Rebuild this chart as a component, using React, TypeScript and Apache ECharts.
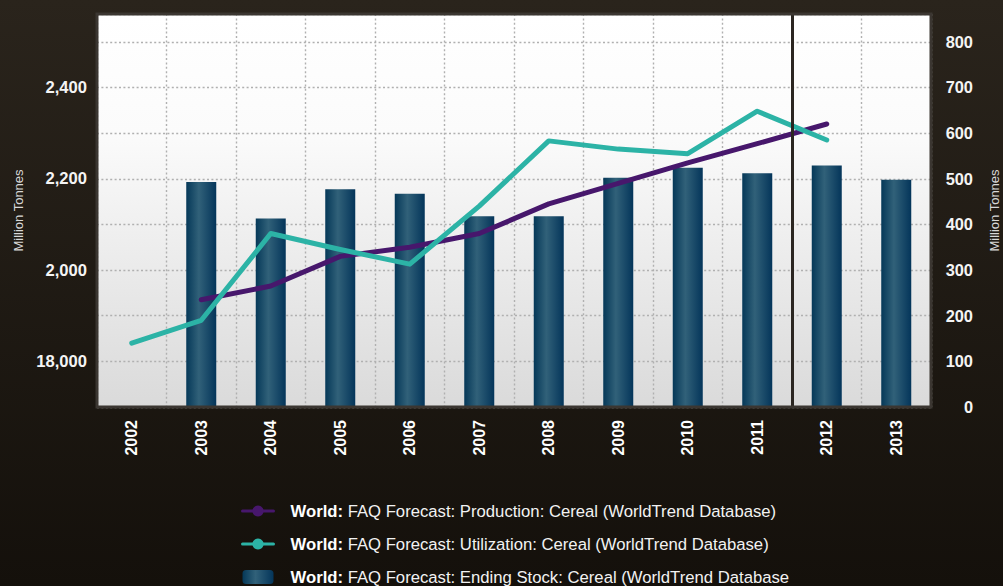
import React, { useEffect, useRef } from 'react';
import * as echarts from 'echarts';

const years = ['2002', '2003', '2004', '2005', '2006', '2007', '2008', '2009', '2010', '2011', '2012', '2013'];
const production = [null, 1935, 1965, 2030, 2050, 2080, 2145, 2190, 2235, 2277, 2320, null];
const utilization = [1840, 1890, 2080, 2045, 2013, 2140, 2283, 2265, 2255, 2348, 2285, null];
const endingStock = [null, 493, 413, 477, 467, 418, 418, 502, 524, 512, 529, 498];

const leftTickValues = [1800, 2000, 2200, 2400];
const leftTickLabels = ['18,000', '2,000', '2,200', '2,400'];
const rightTickValues = [0, 100, 200, 300, 400, 500, 600, 700, 800];

const forecastBoundary = 9.5; // between 2011 and 2012

const seriesNames = [
  'World: FAQ Forecast: Production: Cereal (WorldTrend Database)',
  'World: FAQ Forecast: Utilization: Cereal (WorldTrend Database)',
  'World: FAQ Forecast: Ending Stock: Cereal (WorldTrend Database',
];

const W = 1003;
const H = 586;
const GRID = { left: 97, right: 72, top: 14, bottom: 179 };

export default function App() {
  const ref = useRef<HTMLDivElement>(null);
  useEffect(() => {
    const chart = echarts.init(ref.current!, null, { renderer: 'svg' });
    const font = '"Liberation Sans", Arial, Helvetica, sans-serif';
    const barGradient = new echarts.graphic.LinearGradient(0, 0, 1, 0, [
      { offset: 0, color: '#053858' },
      { offset: 0.42, color: '#316179' },
      { offset: 1, color: '#04355a' },
    ]);
    const gridLine = { color: '#b0b0b0', type: [2, 2.4], width: 1.4 };
    chart.setOption({
      animation: false,
      backgroundColor: new echarts.graphic.LinearGradient(0, 0, 0, 1, [
        { offset: 0, color: '#2a241c' },
        { offset: 1, color: '#14100b' },
      ]),
      grid: {
        ...GRID,
        show: true,
        containLabel: false,
        outerBoundsMode: 'none',
        backgroundColor: new echarts.graphic.LinearGradient(0, 0, 0, 1, [
          { offset: 0, color: '#ffffff' },
          { offset: 0.3, color: '#fbfbfb' },
          { offset: 1, color: '#dadada' },
        ]),
        borderWidth: 0,
      },
      graphic: [
        {
          type: 'rect',
          z: 100,
          silent: true,
          shape: {
            x: GRID.left,
            y: GRID.top,
            width: W - GRID.left - GRID.right,
            height: H - GRID.top - GRID.bottom,
          },
          style: { fill: 'none', stroke: '#3b3631', lineWidth: 3 },
        },
      ],
      legend: {
        orient: 'vertical',
        left: 241,
        top: 502,
        height: 120,
        padding: 0,
        itemWidth: 31,
        itemHeight: 14,
        itemGap: 15,
        data: seriesNames,
        lineStyle: { width: 3 },
        textStyle: {
          color: '#f2f2f2',
          fontSize: 16.7,
          fontFamily: font,
          lineHeight: 18,
          rich: {
            s: { width: 12 },
            b: { fontWeight: 'bold', color: '#ffffff', fontSize: 16.7, fontFamily: font, lineHeight: 18 },
            t: { color: '#f2f2f2', fontSize: 16.7, fontFamily: font, lineHeight: 18 },
          },
        },
        formatter: (name: string) => '{s| }{b|World:}{t|' + name.slice(6) + '}',
      },
      xAxis: [
        {
          type: 'category',
          data: years,
          boundaryGap: true,
          axisLine: { show: false },
          axisTick: { show: false },
          axisLabel: {
            rotate: 90,
            interval: 0,
            color: '#ffffff',
            fontWeight: 'bold',
            fontSize: 16,
            fontFamily: font,
            margin: 13,
          },
          splitLine: { show: true, interval: 0, lineStyle: gridLine },
        },
        { type: 'value', min: -0.5, max: 11.5, show: false },
      ],
      yAxis: [
        {
          type: 'value',
          min: 1700,
          max: 2561,
          interval: 100,
          position: 'left',
          name: 'Million Tonnes',
          nameLocation: 'middle',
          nameRotate: 90,
          nameGap: 72,
          nameTextStyle: { color: '#d8d8d8', fontSize: 13, fontFamily: font },
          axisLine: { show: false },
          axisTick: { show: false },
          axisLabel: {
            color: '#f4f4f4',
            fontWeight: 'bold',
            fontSize: 16.6,
            fontFamily: font,
            margin: 10,
            showMaxLabel: false,
            formatter: (v: number) => {
              const i = leftTickValues.indexOf(v);
              return i >= 0 ? leftTickLabels[i] : '';
            },
          },
          splitLine: { show: true, lineStyle: gridLine },
        },
        {
          type: 'value',
          min: 0,
          max: 861,
          interval: 100,
          position: 'right',
          name: 'Million Tonnes',
          nameLocation: 'middle',
          nameRotate: 90,
          nameGap: 57,
          nameTextStyle: { color: '#d8d8d8', fontSize: 13, fontFamily: font },
          axisLine: { show: false },
          axisTick: { show: false },
          axisLabel: {
            color: '#f4f4f4',
            fontWeight: 'bold',
            fontSize: 16.4,
            fontFamily: font,
            margin: 42,
            align: 'right',
            showMaxLabel: false,
            formatter: (v: number) => (rightTickValues.indexOf(v) >= 0 ? String(v) : ''),
          },
          splitLine: { show: false },
        },
      ],
      series: [
        {
          name: 'forecast',
          type: 'line',
          xAxisIndex: 1,
          yAxisIndex: 0,
          data: [],
          silent: true,
          markLine: {
            silent: true,
            symbol: ['none', 'none'],
            label: { show: false },
            lineStyle: { color: '#2b2621', width: 3, type: 'solid' },
            data: [{ xAxis: forecastBoundary }],
          },
        },
        {
          name: seriesNames[0],
          type: 'line',
          yAxisIndex: 0,
          data: production,
          symbol: 'circle',
          showSymbol: false,
          itemStyle: { color: '#47176c' },
          lineStyle: { width: 5, color: '#47176c', cap: 'round', join: 'round' },
        },
        {
          name: seriesNames[1],
          type: 'line',
          yAxisIndex: 0,
          data: utilization,
          symbol: 'circle',
          showSymbol: false,
          itemStyle: { color: '#2cb3a6' },
          lineStyle: { width: 5, color: '#2cb3a6', cap: 'round', join: 'round' },
        },
        {
          name: seriesNames[2],
          type: 'bar',
          yAxisIndex: 1,
          data: endingStock,
          barWidth: 30,
          itemStyle: { color: barGradient },
        },
      ],
    });
    return () => chart.dispose();
  }, []);
  return <div ref={ref} style={{ position: 'fixed', left: 0, top: 0, width: W, height: H }} />;
}
